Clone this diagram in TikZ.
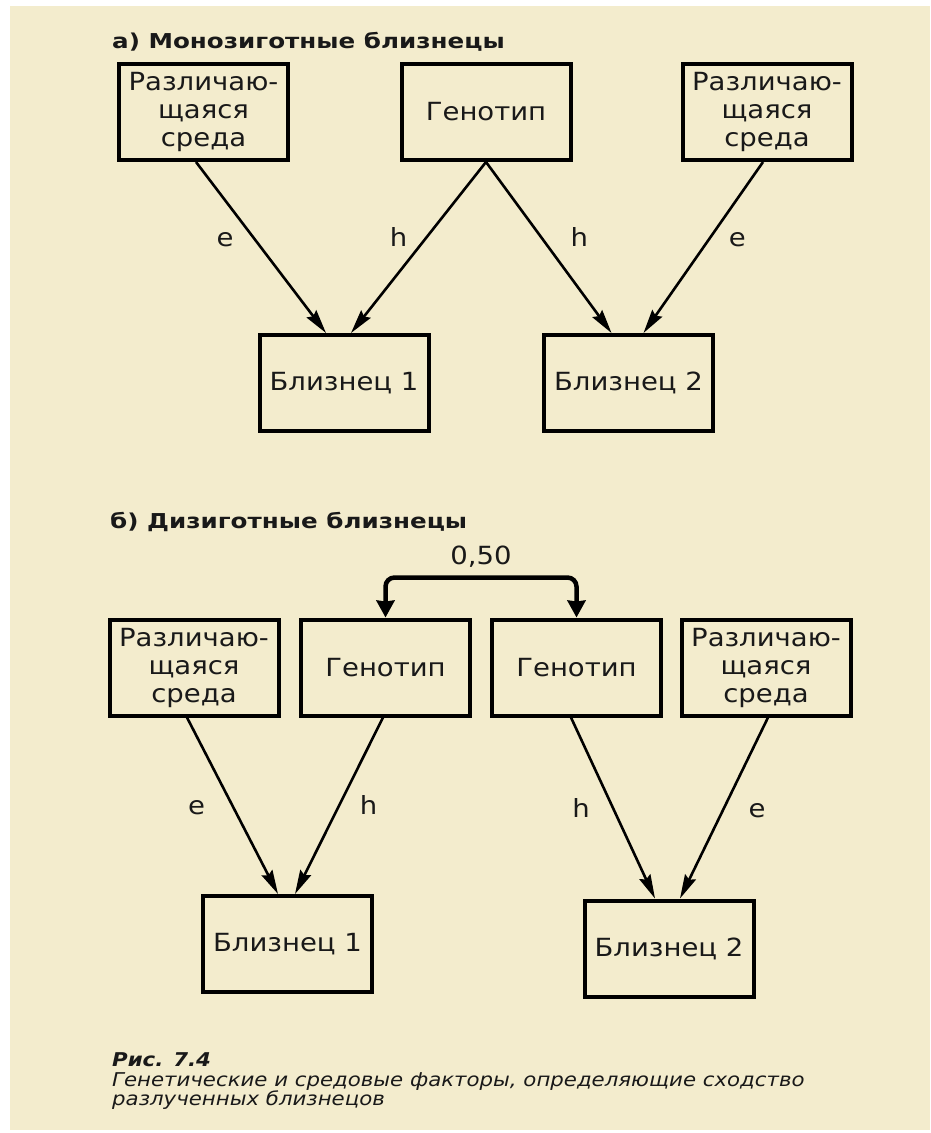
\documentclass[tikz,border=0pt]{standalone}
\usepackage{fontspec}
\setmainfont[FakeStretch=1.1]{DejaVu Sans}
\newfontfamily\headfont[FakeStretch=1.2]{DejaVu Sans}
\newfontfamily\capfont[FakeStretch=1.12]{DejaVu Sans}
\usetikzlibrary{arrows.meta}
\definecolor{paper}{RGB}{243,236,205}
\definecolor{ink}{RGB}{25,25,25}

\begin{document}
\begin{tikzpicture}[x=1pt,y=-1pt]
	\useasboundingbox (0,0) rectangle (930,1133);
	\fill[paper] (10,6) rectangle (930,1130);
	
	\tikzstyle{box}=[draw=black, line width=4pt, minimum width=169pt, minimum height=96pt, inner sep=0pt, align=center, text=ink, font=\fontsize{25}{28}\selectfont]
	\tikzstyle{weight}=[text=ink, inner sep=0pt, text height=18pt, text depth=0pt, font=\fontsize{25}{28}\selectfont]
	\tikzstyle{heading}=[anchor=base west, inner sep=0pt, text=ink, font=\headfont\fontsize{20.5}{24}\selectfont\bfseries]
	\tikzstyle{link}=[line width=2.6pt, -{Stealth[length=24pt, width=12pt, inset=3pt]}]
	
	% MONOZYGOTIC
	\path (112,48) node[heading] (titleA) {а) Монозиготные близнецы};
	\path (203.5,112) node[box] (envA1) {Различаю-\\щаяся\\среда};
	\path (486,112) node[box] (genA) {Генотип};
	\path (767,112) node[box] (envA2) {Различаю-\\щаяся\\среда};
	\path (344,383) node[box] (twinA1) {Близнец 1};
	\path (628.5,383) node[box] (twinA2) {Близнец 2};
	\draw[link] ([xshift=-7.5pt]envA1.south) to node[weight, pos=.44, xshift=-28pt] (eA1) {e} ([xshift=-18pt]twinA1.north);
	\draw[link] (genA.south) to node[weight, pos=.44, xshift=-28pt] (hA1) {h} ([xshift=7pt]twinA1.north);
	\draw[link] (genA.south) to node[weight, pos=.44, xshift=38pt] (hA2) {h} ([xshift=-17pt]twinA2.north);
	\draw[link] ([xshift=-4pt]envA2.south) to node[weight, pos=.44, xshift=27pt] (eA2) {e} ([xshift=15pt]twinA2.north);
	
	% DIZYGOTIC
	\path (110,528) node[heading] (titleB) {б) Дизиготные близнецы};
	\path (194,667.5) node[box] (envB1) {Различаю-\\щаяся\\среда};
	\path (385.5,667.5) node[box] (genB1) {Генотип};
	\path (576.5,667.5) node[box] (genB2) {Генотип};
	\path (766,667.5) node[box] (envB2) {Различаю-\\щаяся\\среда};
	\path (287.5,944) node[box] (twinB1) {Близнец 1};
	\path (669,948.5) node[box] (twinB2) {Близнец 2};
	\draw[link] ([xshift=-7pt]envB1.south) to node[weight, pos=.5, xshift=-36pt] (eB1) {e} ([xshift=-9.5pt]twinB1.north);
	\draw[link] ([xshift=-2.5pt]genB1.south) to node[weight, pos=.5, xshift=29.5pt] (hB1) {h} ([xshift=7.5pt]twinB1.north);
	\draw[link] ([xshift=-5.5pt]genB2.south) to node[weight, pos=.5, xshift=-32pt] (hB2) {h} ([xshift=-14pt]twinB2.north);
	\draw[link] ([xshift=2pt]envB2.south) to node[weight, pos=.5, xshift=33pt] (eB2) {e} ([xshift=11pt]twinB2.north);
	\draw[line width=4.5pt, rounded corners=9pt, {Stealth[length=17pt, width=18pt, inset=1pt]}-{Stealth[length=17pt, width=18pt, inset=1pt]}]
		(genB1.north) -- ++(0,-40) -| node[weight, pos=.25, yshift=22pt] (rGG) {0,50} (genB2.north);
	
	% CAPTION
	\tikzstyle{every node}=[anchor=base west, inner sep=0pt, text=ink, font=\capfont\fontsize{19}{20}\selectfont\itshape]
	\path (112,1066) node (figno) {\bfseries Рис. 7.4};
	\path (112,1086) node (capA) {Генетические и средовые факторы, определяющие сходство};
	\path (112,1105) node (capB) {разлученных близнецов};
\end{tikzpicture}
\end{document}
